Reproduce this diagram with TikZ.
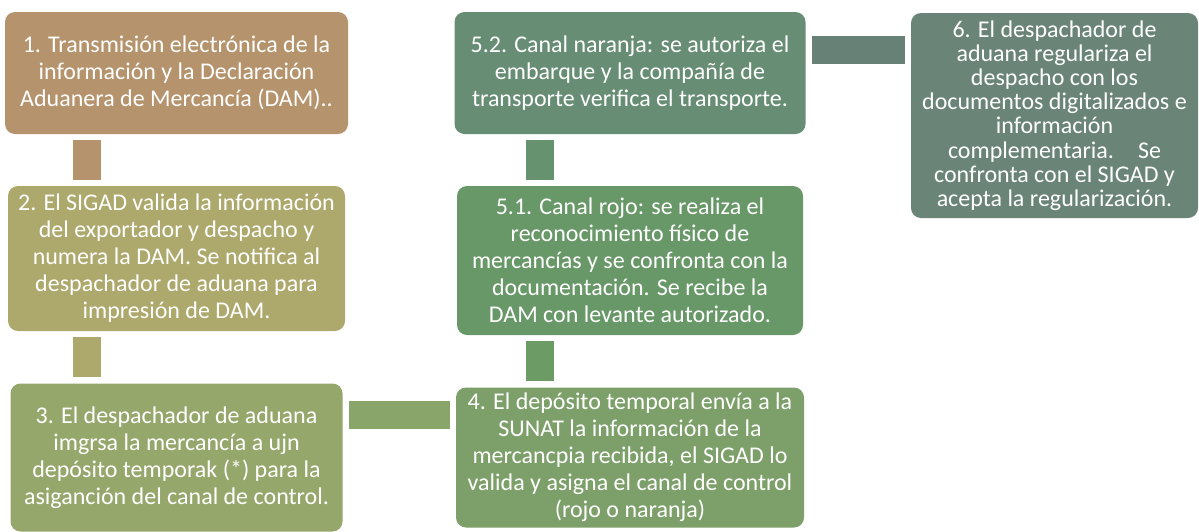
\documentclass[tikz,border=0pt]{standalone}
\usepackage{fontspec}
\setmainfont{Carlito}
\usetikzlibrary{positioning, calc}
\definecolor{stepOne}{RGB}{181,147,108}
\definecolor{stepTwo}{RGB}{173,168,108}
\definecolor{stepThree}{RGB}{150,167,107}
\definecolor{stepFour}{RGB}{125,160,106}
\definecolor{stepFiveA}{RGB}{104,152,104}
\definecolor{stepFiveB}{RGB}{103,141,116}
\definecolor{stepSix}{RGB}{106,132,120}
\definecolor{barThreeFour}{RGB}{137,165,106}
\definecolor{barFourFive}{RGB}{109,155,102}
\definecolor{barFiveFive}{RGB}{103,146,111}
\definecolor{barFiveSix}{RGB}{104,129,119}
\tikzset{
    stepBox/.style={rectangle, rounded corners=10pt, text=white, align=center, inner sep=0pt, font=\fontsize{24}{27}\selectfont},
    linkBar/.style={line width=28pt, shorten <=6pt, shorten >=6pt},
}
\newcommand{\drawBar}[3]{
    \draw[linkBar, #1] (#2) -- (#3);
}
\begin{document}
\begin{tikzpicture}[x=1pt, y=-1pt]
    \useasboundingbox (0,0) rectangle (1199,531);

    % left column
    \node[stepBox, fill=stepOne, minimum width=343pt, minimum height=122pt] (b1) at (176.5, 73)
        {1. Transmisión electrónica de la\\información y la Declaración\\Aduanera de Mercancía (DAM)..};
    \node[stepBox, fill=stepTwo, minimum width=337pt, minimum height=145pt] (b2) at (176.5, 258.5)
        {2. El SIGAD valida la información\\del exportador y despacho y\\numera la DAM. Se notifica al\\despachador de aduana para\\impresión de DAM.};
    \node[stepBox, fill=stepThree, minimum width=332pt, minimum height=148pt] (b3) at (176.5, 457.5)
        {3. El despachador de aduana\\imgrsa la mercancía a ujn\\depósito temporak (*) para la\\asiganción del canal de control.};

    % middle column
    \node[stepBox, fill=stepFour, minimum width=348pt, minimum height=140pt] (b4) at (630, 457.5)
        {4. El depósito temporal envía a la\\SUNAT la información de la\\mercancpia recibida, el SIGAD lo\\valida y asigna el canal de control\\(rojo o naranja)};
    \node[stepBox, fill=stepFiveA, minimum width=346pt, minimum height=149pt] (b51) at (630, 260.5)
        {5.1. Canal rojo: se realiza el\\reconocimiento físico de\\mercancías y se confronta con la\\documentación. Se recibe la\\DAM con levante autorizado.};
    \node[stepBox, fill=stepFiveB, minimum width=351pt, minimum height=122pt] (b52) at (630, 73)
        {5.2. Canal naranja: se autoriza el\\embarque y la compañía de\\transporte verifica el transporte.};

    % right column
    \node[stepBox, fill=stepSix, minimum width=287pt, minimum height=205pt, font=\fontsize{24}{24.2}\selectfont] (b6) at (1054.5, 115.5)
        {6. El despachador de\\aduana regulariza el\\despacho con los\\documentos digitalizados e\\información\\complementaria.\quad Se\\confronta con el SIGAD y\\acepta la regularización.};

    % bars
    \drawBar{stepOne}{[xshift=-90pt]b1.south}{[xshift=-90pt]b2.north}
    \drawBar{stepTwo}{[xshift=-90pt]b2.south}{[xshift=-90pt]b3.north}
    \drawBar{barThreeFour}{[yshift=43pt]b3.east}{[yshift=43pt]b4.west}
    \drawBar{barFourFive}{[xshift=-90pt]b4.north}{[xshift=-90pt]b51.south}
    \drawBar{barFiveFive}{[xshift=-90pt]b51.north}{[xshift=-90pt]b52.south}
    \coordinate (c56) at ([yshift=23.5pt]b52.east);
    \drawBar{barFiveSix}{c56}{c56 -| b6.west}

\end{tikzpicture}
\end{document}
